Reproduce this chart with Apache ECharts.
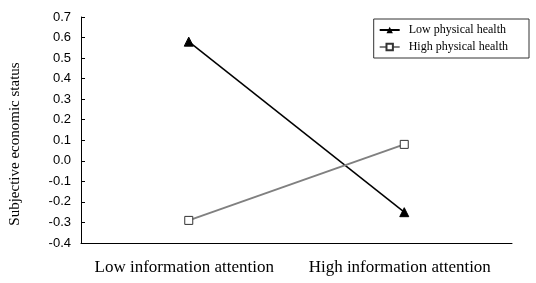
<!DOCTYPE html>
<html>
<head>
<meta charset="utf-8">
<script src="https://cdn.jsdelivr.net/npm/echarts@6/dist/echarts.min.js"></script>
<style>
  html, body { margin: 0; padding: 0; background: #fff; }
  #chart { width: 536px; height: 283px; }
</style>
</head>
<body>
<div id="chart"></div>
<script>
// data
const categories = ['Low information attention', 'High information attention'];
const lowHealth = [0.58, -0.25];
const highHealth = [-0.29, 0.08];
const seriesNames = ['Low physical health', 'High physical health'];

const chart = echarts.init(document.getElementById('chart'));

const option = {
    animation: false,
    backgroundColor: '#fff',
    grid: {
        left: 81,
        right: 24,
        top: 17,
        bottom: 40
    },
    legend: {
        orient: 'vertical',
        right: 7,
        top: 19,
        data: seriesNames,
        borderColor: '#333',
        borderWidth: 1,
        padding: [5, 21, 5, 5],
        itemGap: 5,
        itemWidth: 20,
        itemHeight: 8,
        textStyle: {
            fontFamily: 'Liberation Serif',
            fontSize: 12,
            color: '#000',
            padding: [0, 0, 0, 4]
        }
    },
    xAxis: {
        type: 'category',
        data: categories,
        boundaryGap: true,
        axisLine: {onZero: false, lineStyle: {color: '#000', width: 1}},
        axisTick: {inside: true, length: 5, lineStyle: {color: '#000'}},
        axisLabel: {
            interval: 0,
            fontFamily: 'Liberation Serif',
            fontSize: 17,
            color: '#000',
            margin: 16,
            padding: [0, 9, 0, 0]
        },
        splitLine: {show: false}
    },
    yAxis: {
        type: 'value',
        min: -0.4,
        max: 0.7,
        interval: 0.1,
        name: 'Subjective economic status',
        nameLocation: 'middle',
        nameGap: 58,
        nameTextStyle: {
            fontFamily: 'Liberation Serif',
            fontSize: 15,
            color: '#000',
            padding: [0, 28, 0, 0]
        },
        axisLine: {show: true, lineStyle: {color: '#000', width: 1}},
        axisTick: {show: true, inside: true, length: 4, lineStyle: {color: '#000'}},
        axisLabel: {
            fontFamily: 'Liberation Sans',
            fontSize: 13,
            color: '#000',
            margin: 10,
            formatter: v => v.toFixed(1)
        },
        splitLine: {show: false}
    },
    series: [
        {
            name: seriesNames[0],
            type: 'line',
            data: lowHealth,
            symbol: 'triangle',
            symbolSize: 9,
            color: '#000',
            lineStyle: {color: '#000', width: 1.5},
            itemStyle: {color: '#000', borderColor: '#000'}
        },
        {
            name: seriesNames[1],
            type: 'line',
            data: highHealth,
            symbol: 'rect',
            symbolSize: 8,
            color: '#808080',
            lineStyle: {color: '#808080', width: 2},
            itemStyle: {color: '#fff', borderColor: '#333', borderWidth: 1}
        }
    ]
};

chart.setOption(option);
</script>
</body>
</html>
